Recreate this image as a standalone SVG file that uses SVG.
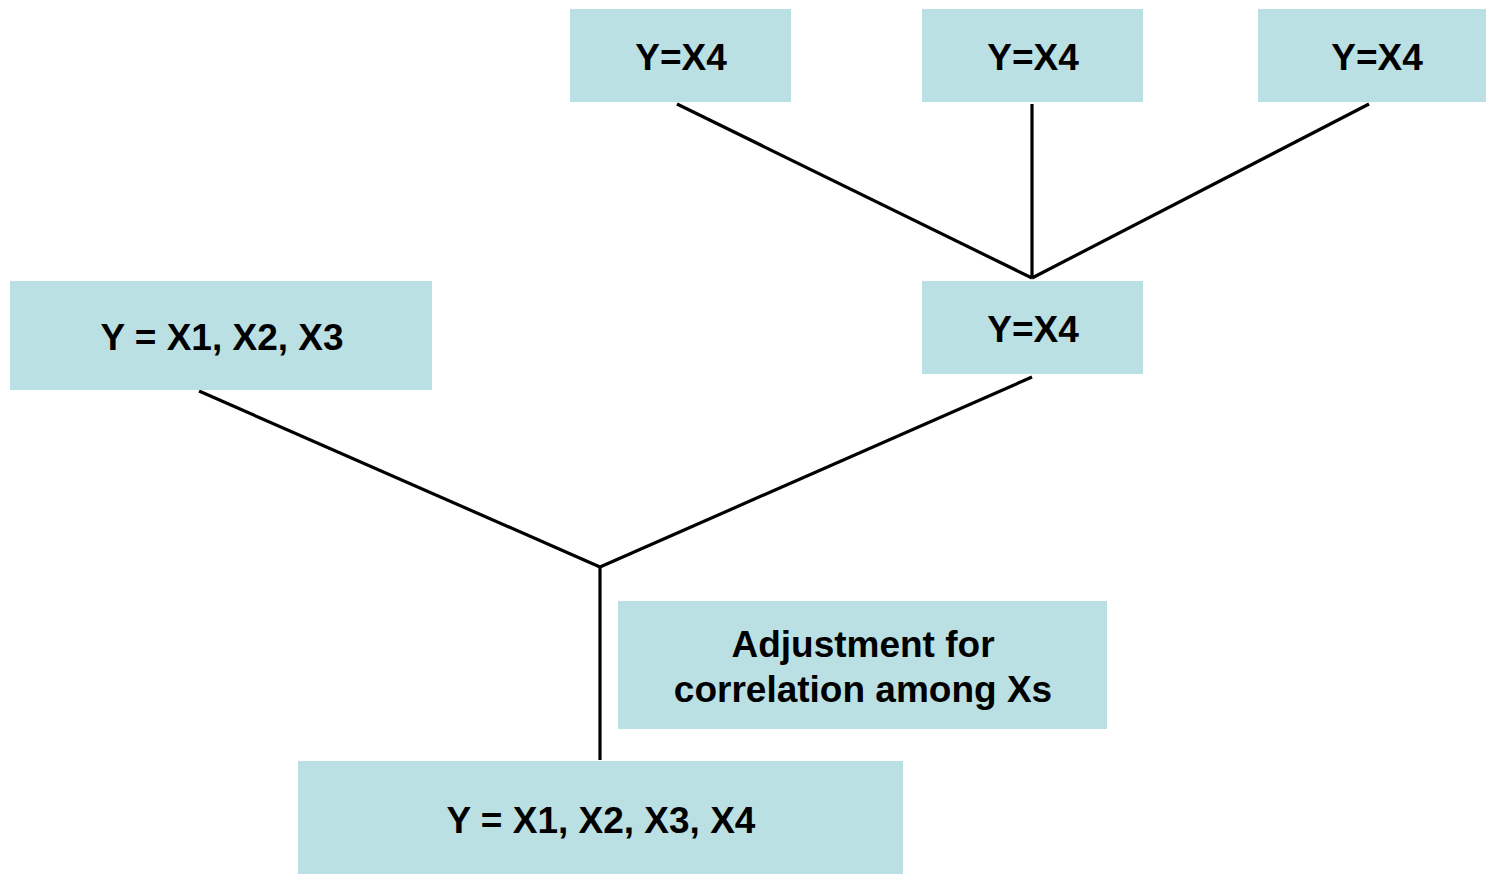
<svg xmlns="http://www.w3.org/2000/svg" width="1486" height="874" viewBox="0 0 1486 874">
<style>
.box{fill:#BBE0E3;}
.t{font-family:"Liberation Sans",Arial,sans-serif;font-weight:bold;font-size:37px;fill:#000;text-anchor:middle;}
.c{stroke:#000;stroke-width:3.2;fill:none;}
</style>
<rect width="1486" height="874" fill="#fff"/>
<g id="connectors">
<line class="c" x1="677" y1="104" x2="1032" y2="278"/>
<line class="c" x1="1032" y1="104" x2="1032" y2="278"/>
<line class="c" x1="1369" y1="104" x2="1032" y2="278"/>
<line class="c" x1="199" y1="391" x2="600" y2="567"/>
<line class="c" x1="1032" y1="377" x2="600" y2="567"/>
<line class="c" x1="600" y1="566" x2="600" y2="760"/>
</g>
<g id="top1"><rect class="box" x="570" y="9" width="221" height="93"/><text class="t" x="681" y="70">Y=X4</text></g>
<g id="top2"><rect class="box" x="922" y="9" width="221" height="93"/><text class="t" x="1033" y="70">Y=X4</text></g>
<g id="top3"><rect class="box" x="1258" y="9" width="228" height="93"/><text class="t" x="1377" y="70">Y=X4</text></g>
<g id="mid"><rect class="box" x="922" y="281" width="221" height="93"/><text class="t" x="1033" y="342">Y=X4</text></g>
<g id="left"><rect class="box" x="10" y="281" width="422" height="109"/><text class="t" x="222" y="350">Y = X1, X2, X3</text></g>
<g id="adjust"><rect class="box" x="618" y="601" width="489" height="128"/><text class="t" x="863" y="657">Adjustment for</text><text class="t" x="863" y="702">correlation among Xs</text></g>
<g id="bottom"><rect class="box" x="298" y="761" width="605" height="113"/><text class="t" x="601" y="833">Y = X1, X2, X3, X4</text></g>
</svg>
